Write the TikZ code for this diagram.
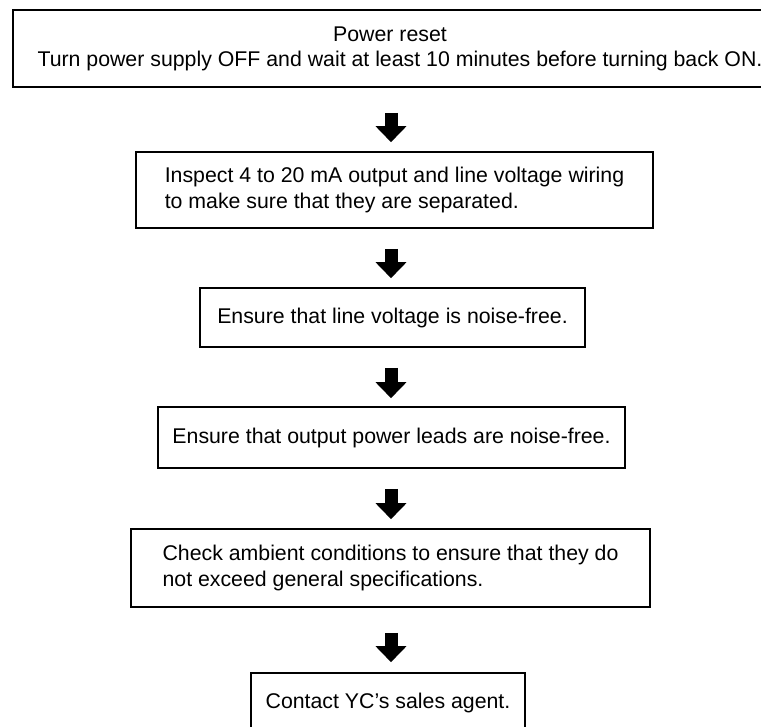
\documentclass[tikz,border=0pt]{standalone}
\usepackage{fontspec}
\setmainfont{Liberation Sans}
\usetikzlibrary{arrows.meta}
\begin{document}
\begin{tikzpicture}[x=1pt,y=-1pt,
  stepbox/.style={draw, line width=1.6pt, inner sep=0pt, align=left,
    font=\fontsize{21.3}{26}\selectfont},
  flowarrow/.style={line width=13pt,
    -{Triangle[width=30pt,length=16pt]}}]
\useasboundingbox (0,0) rectangle (761,727);
\clip (0,0) rectangle (761,727);
\fill[white] (0,0) rectangle (761,727);

% troubleshooting steps
\node[stepbox, align=center, minimum width=774pt, minimum height=77pt,
  font=\fontsize{21.3}{25}\selectfont] (reset) at (400,48.5)
  {\hspace*{-20pt}Power reset\\Turn power supply OFF and wait at least 10 minutes before turning back ON.};
\node[stepbox, minimum width=517pt, minimum height=76pt] (inspect) at (394.5,190)
  {Inspect 4 to 20 mA output and line voltage wiring\\to make sure that they are separated.};
\node[stepbox, minimum width=385pt, minimum height=59pt] (line) at (392.5,317.5)
  {Ensure that line voltage is noise-free.};
\node[stepbox, minimum width=467pt, minimum height=61pt] (leads) at (391.5,437.5)
  {Ensure that output power leads are noise-free.};
\node[stepbox, minimum width=519pt, minimum height=78pt] (ambient) at (390.5,568)
  {Check ambient conditions to ensure that they do\\not exceed general specifications.};
\node[stepbox, minimum width=274pt, minimum height=59pt] (agent) at (388,702.5)
  {Contact YC's sales agent.};

% downward arrows between the steps
\coordinate (ax) at (391,0);
\draw[flowarrow, shorten <=25pt, shorten >=9pt] (reset.south -| ax) -- (inspect.north -| ax);
\draw[flowarrow, shorten <=20pt, shorten >=9pt] (inspect.south -| ax) -- (line.north -| ax);
\draw[flowarrow, shorten <=20pt, shorten >=8pt] (line.south -| ax) -- (leads.north -| ax);
\draw[flowarrow, shorten <=20pt, shorten >=9pt] (leads.south -| ax) -- (ambient.north -| ax);
\draw[flowarrow, shorten <=25pt, shorten >=10pt] (ambient.south -| ax) -- (agent.north -| ax);
\end{tikzpicture}
\end{document}
